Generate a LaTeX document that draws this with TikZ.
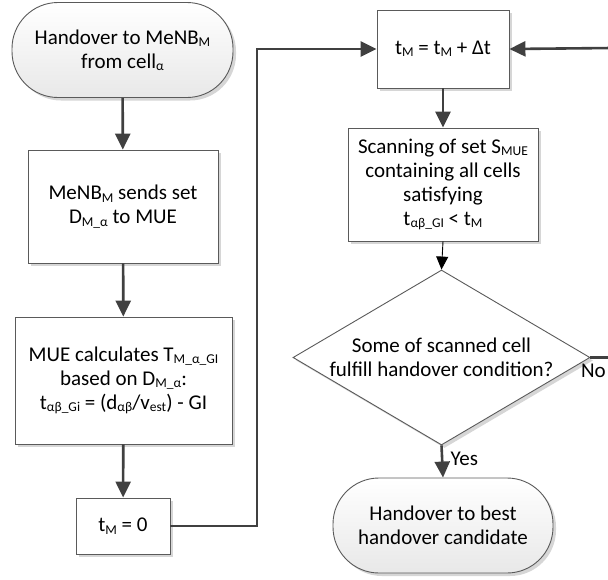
\documentclass[tikz,border=0pt]{standalone}
\usepackage{fontspec}
\setmainfont{Carlito}
\usetikzlibrary{arrows.meta,shadows,shapes.geometric}
\definecolor{linegray}{HTML}{404040}
\definecolor{edgegray}{HTML}{5A5A5A}
\definecolor{shadowgray}{HTML}{D6D6D6}
% lowered, smaller text for indices
\newcommand{\lo}[1]{\raisebox{-2.4pt}{\fontsize{13.5}{13.5}\selectfont #1}}

\begin{document}
\begin{tikzpicture}[x=1pt,y=-1pt,
  font=\fontsize{21}{24}\selectfont,
  shade/.style={drop shadow={shadow xshift=3pt,shadow yshift=-3pt,fill=shadowgray,opacity=1}},
  procbox/.style={draw=edgegray,line width=0.9pt,fill=white,align=center,inner sep=0pt,shade},
  terminal/.style={draw=edgegray,line width=0.9pt,rounded corners=46pt,align=center,inner sep=0pt,
    top color=white,middle color=white,bottom color=black!9,shade},
  decision/.style={draw=edgegray,line width=0.9pt,fill=white,diamond,inner sep=0pt,shade},
  conn/.style={draw=linegray,line width=2.6pt,-{Triangle[width=15pt,length=16pt]}},
  thinconn/.style={draw=black,line width=0.9pt,-{Triangle[width=12pt,length=13pt]}},
  lbl/.style={inner sep=0pt,font=\fontsize{21}{24}\selectfont}
]
\clip (0,0) rectangle (608,579);
\path[use as bounding box] (0,0) rectangle (608,579);

% left column
\node[terminal,minimum width=221pt,minimum height=95pt] (start) at (122.5,50)
  {Handover to MeNB\lo{M}\\from cell\lo{α}};
\node[procbox,minimum width=190pt,minimum height=113pt] (send) at (123,206.5)
  {MeNB\lo{M} sends set\\D\lo{M\_α} to MUE};
\node[procbox,minimum width=217pt,minimum height=127pt] (calc) at (123.5,380.5)
  {MUE calculates T\lo{M\_α\_GI}\\based on D\lo{M\_α}:\\t\lo{αβ\_Gi} = (d\lo{αβ}/v\lo{est}) - GI};
\node[procbox,minimum width=94pt,minimum height=56pt] (zero) at (123,526)
  {t\lo{M} = 0};

% right column
\node[procbox,minimum width=132pt,minimum height=78pt] (tinc) at (443,49)
  {t\lo{M} = t\lo{M} + Δt};
\node[procbox,minimum width=190pt,minimum height=113pt] (scan) at (443,184.5)
  {Scanning of set S\lo{MUE}\\containing all cells\\satisfying\\t\lo{αβ\_GI} < t\lo{M}};
\node[decision,minimum width=297pt,minimum height=175pt,
  label={[align=center,inner sep=0pt]center:Some of scanned cell\\fulfill handover condition?}] (dec) at (441.5,357.5) {};
\node[terminal,minimum width=220pt,minimum height=95pt] (finish) at (443,525.5)
  {Handover to best\\handover candidate};

% connectors
\coordinate (bend) at (257,526);
\coordinate (noEnd) at (612,357.5);
\coordinate (loopIn) at (612,48);

\draw[conn] (start) -- (send);
\draw[conn] (send) -- (calc);
\draw[conn] (calc) -- (zero);
\draw[conn] (zero.east) -- (bend) |- (tinc.west);
\draw[conn] (loopIn) -- (tinc.east);
\draw[conn] (tinc) -- (scan);
\draw[thinconn] (scan.south) -- (dec.north);
\draw[conn] (dec.south) -- (finish.north);
\draw[draw=linegray,line width=2.6pt] (dec.east) -- (noEnd);

\node[lbl,anchor=north east] (no) at ([xshift=-6pt,yshift=-6pt]noEnd) {No};
\node[lbl,anchor=north west] (yes) at ([xshift=9pt,yshift=-6pt]dec.south) {Yes};
\end{tikzpicture}
\end{document}
